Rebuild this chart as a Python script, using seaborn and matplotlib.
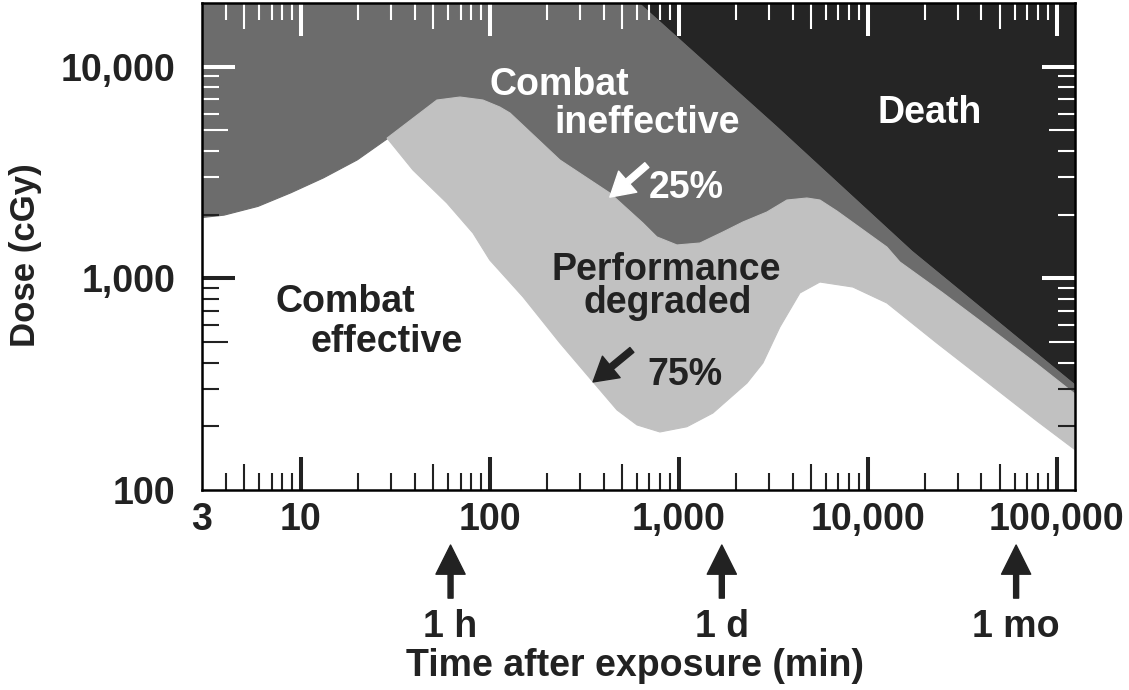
import matplotlib
matplotlib.use("Agg")
import numpy as np
import matplotlib.pyplot as plt
from matplotlib.ticker import FixedLocator, FuncFormatter, NullFormatter
import seaborn as sns

# Limites des zones (temps en min, dose en cGy)
t_effective_top = [3, 3.9, 5.9, 8.8, 13.1, 19.8, 28.6]
dose_effective_top = [1950, 2000, 2200, 2550, 3000, 3650, 4600]

t_degraded_top = [28.6, 52.5, 69.6, 92, 113, 128, 235, 432, 646, 766, 978, 1295,
                  1713, 2185, 2927, 3736, 4766, 5586, 6872, 12630, 14800, 25000,
                  42700, 78500, 125000]
dose_degraded_top = [4600, 6960, 7190, 6960, 6450, 6040, 3625, 2530, 1826, 1570,
                     1438, 1469, 1656, 1846, 2058, 2345, 2397, 2345, 2080, 1406,
                     1195, 853, 596, 394, 284]

t_degraded_bottom = [28.6, 39.2, 59.3, 81.5, 100, 150, 235, 352, 471, 601, 795,
                     1104, 1516, 2296, 2788, 3430, 4377, 5586, 8346, 12630, 23200,
                     42700, 78500, 125000]
dose_degraded_bottom = [4600, 3250, 2270, 1637, 1221, 817, 495, 324, 239, 203, 188,
                        199, 231, 320, 398, 589, 853, 961, 910, 765, 495, 324, 212, 155]

t_death = [631, 3306, 17300, 125000]
dose_death = [20000, 5300, 1361, 320]

x_ticks = [3, 10, 100, 1000, 10000, 100000]
y_ticks = [100, 1000, 10000]
time_marks = [62, 1690, 61000]
time_mark_labels = ["1 h", "1 d", "1 mo"]

X_LIM = (3, 125000)
Y_LIM = (100, 20000)

MID = "#6c6c6c"
LIGHT = "#c1c1c1"
DEATH = "#252525"
INK = "#222222"

sns.set_theme(style="white")
plt.rcParams["font.family"] = ["Liberation Sans", "DejaVu Sans"]
plt.rcParams["font.weight"] = "bold"

fig = plt.figure(figsize=(11.29, 6.90), dpi=100)
ax = fig.add_axes([202 / 1129, 200 / 690, 873 / 1129, 487 / 690])
ax.set_xscale("log")
ax.set_yscale("log")

# zones
t_upper = t_effective_top[:-1] + t_degraded_top
dose_upper = dose_effective_top[:-1] + dose_degraded_top
ax.fill_between(t_upper, dose_upper, Y_LIM[1], color=MID, lw=0.8, zorder=1)
ax.fill(t_degraded_top + t_degraded_bottom[::-1],
        dose_degraded_top + dose_degraded_bottom[::-1],
        color=LIGHT, lw=0.8, zorder=1.2)
ax.fill_between(t_death, dose_death, Y_LIM[1], color=DEATH, lw=0.8, zorder=1.4)
sns.lineplot(x=t_death, y=dose_death, color=DEATH, lw=1.0, ax=ax, zorder=1.5)

ax.set_xlim(*X_LIM)
ax.set_ylim(*Y_LIM)

# axes / graduations
fmt = FuncFormatter(lambda v, p: "{:,.0f}".format(v))
ax.xaxis.set_major_locator(FixedLocator(x_ticks))
ax.xaxis.set_major_formatter(fmt)
ax.xaxis.set_minor_locator(FixedLocator([m * 10.0 ** e for e in range(0, 6) for m in range(2, 10)]))
ax.xaxis.set_minor_formatter(NullFormatter())
ax.yaxis.set_major_locator(FixedLocator(y_ticks))
ax.yaxis.set_major_formatter(fmt)
ax.yaxis.set_minor_locator(FixedLocator([m * 10.0 ** e for e in range(2, 5) for m in range(2, 10)]))
ax.yaxis.set_minor_formatter(NullFormatter())

ax.set_axisbelow(False)
ax.tick_params(which="both", direction="in", bottom=True, left=True, top=True, right=True,
               colors=INK, labelsize=27)
ax.tick_params(which="major", length=23.5, width=2.9)
ax.tick_params(which="minor", length=12, width=1.5)
ax.tick_params(axis="x", pad=9)
ax.tick_params(axis="y", pad=19)
for lab in ax.get_xticklabels() + ax.get_yticklabels():
    lab.set_fontweight("bold")

for s in ax.spines.values():
    s.set_linewidth(1.8)
    s.set_color("black")
    s.set_zorder(5)

ax.set_ylabel("Dose (cGy)", fontsize=25, fontweight="bold", color=INK)
ax.yaxis.set_label_coords(-0.183, 0.483)
ax.set_xlabel("Time after exposure (min)", fontsize=27, fontweight="bold", color=INK)
ax.xaxis.set_label_coords(0.496, -0.325)

# texte des zones
txt = dict(fontsize=27, fontweight="bold", ha="center", va="baseline", zorder=6)
ax.text(232, 7350, "Combat", color="white", **txt)
ax.text(678, 4860, "ineffective", color="white", **txt)
ax.text(21300, 5420, "Death", color="white", **txt)
ax.text(17.1, 693, "Combat", color=INK, **txt)
ax.text(28.6, 449, "effective", color=INK, **txt)
ax.text(855, 982, "Performance", color=INK, **txt)
ax.text(877, 686, "degraded", color=INK, **txt)
ax.text(1092, 2397, "25%", color="white", **txt)
ax.text(1078, 313, "75%", color=INK, **txt)

ax.annotate("", xy=(432, 2420), xytext=(678, 3430),
            arrowprops=dict(color="white", width=4.5, headwidth=20, headlength=17, shrink=0),
            zorder=6)
ax.annotate("", xy=(352, 324), xytext=(565, 459),
            arrowprops=dict(color=INK, width=4.5, headwidth=20, headlength=17, shrink=0),
            zorder=6)

# reperes 1 h / 1 d / 1 mo
trans = ax.get_xaxis_transform()
for t, lab in zip(time_marks, time_mark_labels):
    ax.annotate("", xy=(t, -0.113), xytext=(t, -0.222), xycoords=trans, textcoords=trans,
                arrowprops=dict(color=INK, width=3.6, headwidth=21, headlength=21, shrink=0),
                annotation_clip=False)
    ax.text(t, -0.302, lab, transform=trans, ha="center", va="baseline",
            fontsize=27, fontweight="bold", color=INK)

# couleur / longueur des graduations selon la zone
fig.canvas.draw()


def is_five(v):
    m = v / 10 ** np.floor(np.log10(v) + 1e-9)
    return abs(m - 5) < 1e-6


for tick, loc in zip(ax.xaxis.get_major_ticks(), ax.xaxis.get_majorticklocs()):
    tick.tick2line.set_markeredgecolor("white")
    if loc < 5:
        tick.tick1line.set_visible(False)
        tick.tick2line.set_visible(False)
for tick, loc in zip(ax.xaxis.get_minor_ticks(), ax.xaxis.get_minorticklocs()):
    tick.tick2line.set_markeredgecolor("white")
    if is_five(loc):
        tick.tick1line.set_markersize(19)
        tick.tick2line.set_markersize(19)
for ticks, locs in [(ax.yaxis.get_major_ticks(), ax.yaxis.get_majorticklocs()),
                    (ax.yaxis.get_minor_ticks(), ax.yaxis.get_minorticklocs())]:
    for tick, loc in zip(ticks, locs):
        if loc > 2000:
            tick.tick1line.set_markeredgecolor("white")
        if loc >= 400:
            tick.tick2line.set_markeredgecolor("white")
        if is_five(loc):
            tick.tick1line.set_markersize(19)
            tick.tick2line.set_markersize(19)
        if loc <= 100:
            tick.tick1line.set_visible(False)
            tick.tick2line.set_visible(False)

fig.savefig("out.png", dpi=100)
